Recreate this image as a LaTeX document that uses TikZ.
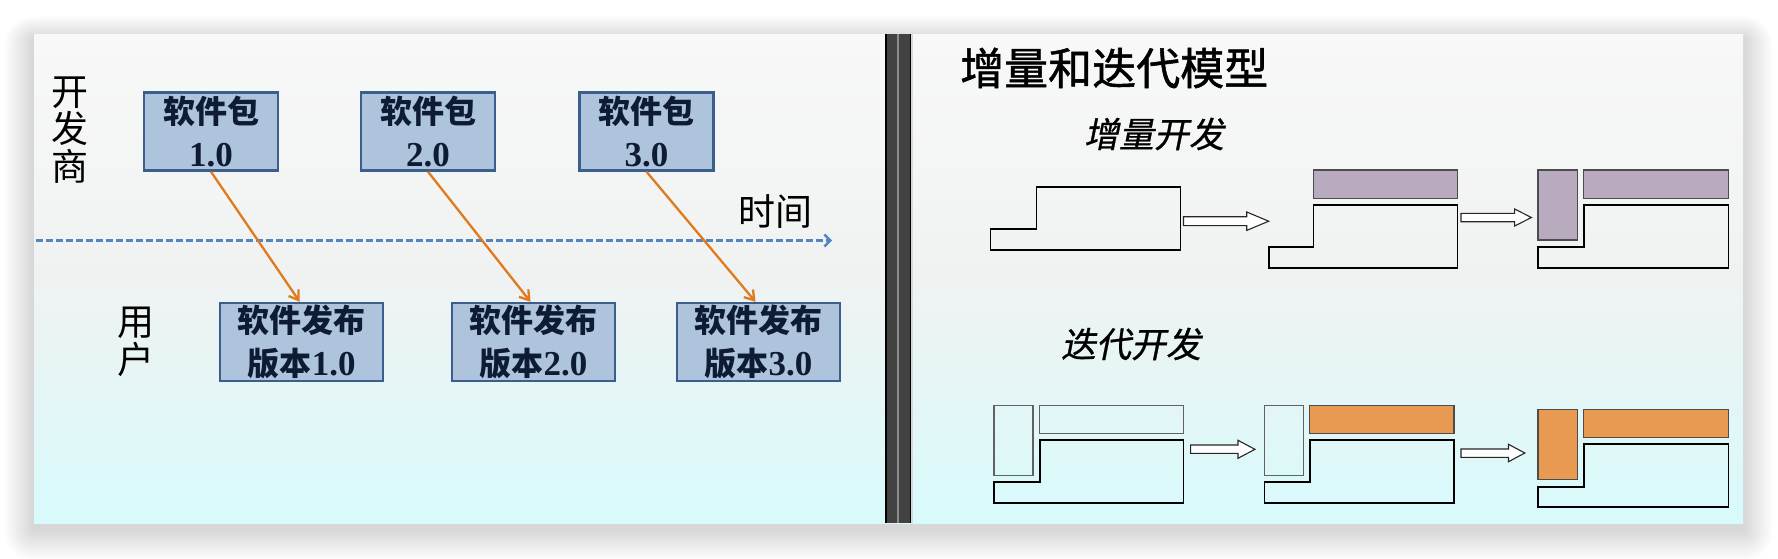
\documentclass[tikz,border=0pt]{standalone}
\usepackage{fontspec}
\setmainfont{Liberation Serif}
\newfontfamily\cjk{Noto Sans CJK SC}
\newfontfamily\cjkh[FakeBold=1.2]{Noto Sans CJK SC}
\newfontfamily\cjkit[FakeSlant=0.2,FakeBold=0.8]{Noto Sans CJK SC}
\usetikzlibrary{arrows.meta}
\definecolor{boxfill}{HTML}{AEC3DC}
\definecolor{boxline}{HTML}{3B5E8C}
\definecolor{boxtext}{HTML}{0E1C33}
\definecolor{arrc}{HTML}{E07A1C}
\definecolor{dashc}{HTML}{5585C0}
\definecolor{lav}{HTML}{B8ABBF}
\definecolor{org}{HTML}{E89A52}
\definecolor{bgtop}{HTML}{F8F8F8}
\definecolor{bgmid}{HTML}{F0F2F2}
\definecolor{bgbot}{HTML}{D8FAFB}
\definecolor{divdark}{HTML}{424242}
\definecolor{divlight}{HTML}{8C8C8C}
\tikzset{
  pkg/.style={draw=boxline, line width=2.4pt, fill=boxfill, minimum width=134pt,
    minimum height=78pt, inner sep=0pt, align=center, text=boxtext,
    font=\fontsize{32}{43}\selectfont\bfseries},
  rel/.style={pkg, minimum width=163pt},
  flow/.style={draw=arrc, line width=2.3pt, -{Straight Barb[length=9pt,width=12pt,line width=2.3pt]}},
  axis/.style={draw=dashc, line width=2.6pt, dash pattern=on 7pt off 3pt,
    -{Straight Barb[length=6pt,width=12pt,line width=2.4pt]}},
  label/.style={inner sep=0pt, font=\cjk\fontsize{37}{38}\selectfont, align=center},
  outline/.style={draw=black, line width=1.7pt},
  lavbox/.style={draw=black!70, line width=1.6pt, fill=lav},
  orgbox/.style={draw=black!70, line width=1.6pt, fill=org},
  emptybox/.style={draw=black!62, line width=1.5pt},
  blockarrow/.style={draw=black!85, line width=1.1pt, fill=white},
}
\begin{document}
\begin{tikzpicture}[x=1pt,y=-1pt]
\useasboundingbox (0,0) rectangle (1778,558);
% shadow
\foreach \i in {1,...,20}{
  \fill[black, opacity=0.008, rounded corners=1.5*\i pt] (34-1.5*\i,34-1.2*\i+6) rectangle (1743+1.5*\i,523+1.6*\i+6);
}
% background panel
\shade[top color=bgtop, bottom color=bgbot, middle color=bgmid] (34,34) rectangle (1743,523);
% divider
\fill[black] (885,34) rectangle (911,523);
\fill[divdark] (886.7,34) rectangle (896.7,523);
\fill[divlight] (896.7,34) rectangle (899,523);
\fill[divdark] (899,34) rectangle (910,523);
\fill[white!85!black] (911,34) rectangle (912.5,523);

% ---------- left part ----------
\node[label] (dev) at (70,130) {开\\[-0.5pt]发\\[-0.5pt]商};
\node[label] (usr) at (136,342) {用\\户};
\node[label] (time) at (775,212) {时间};

\coordinate (tl) at (36,240.5);
\coordinate (tr) at (832,240.5);
\draw[axis] (tl) -- (tr);

\node[pkg] (p1) at (211,131.5) {{\cjk 软件包}\\{\fontsize{35}{43}\selectfont 1.0}};
\node[pkg] (p2) at (428,131.5) {{\cjk 软件包}\\{\fontsize{35}{43}\selectfont 2.0}};
\node[pkg] (p3) at (646.5,131.5) {{\cjk 软件包}\\{\fontsize{35}{43}\selectfont 3.0}};

\node[rel] (r1) at (301.75,342) {{\cjk 软件发布}\\{\cjk 版本}{\fontsize{35}{43}\selectfont 1.0}};
\node[rel] (r2) at (533.5,342) {{\cjk 软件发布}\\{\cjk 版本}{\fontsize{35}{43}\selectfont 2.0}};
\node[rel] (r3) at (758.5,342) {{\cjk 软件发布}\\{\cjk 版本}{\fontsize{35}{43}\selectfont 3.0}};

\draw[flow] (p1.south) -- ([xshift=-2pt]r1.north);
\draw[flow] (p2.south) -- ([xshift=-3pt]r2.north);
\draw[flow] (p3.south) -- ([xshift=-3pt]r3.north);

% ---------- right part ----------
\node[inner sep=0pt, anchor=west, font=\cjkh\fontsize{44}{46}\selectfont] (title) at (960,68) {增量和迭代模型};
\node[inner sep=0pt, font=\cjkit\fontsize{35}{36}\selectfont] (inc) at (1154,134) {增量开发};
\node[inner sep=0pt, font=\cjkit\fontsize{35}{36}\selectfont] (itr) at (1131,344) {迭代开发};

% row 1 : incremental
\draw[outline] (1036.5,187.3) -- (1180.4,187.3) -- (1180.4,250) -- (990.6,250) -- (990.6,229.3) -- (1036.5,229.3) -- cycle;
\draw[blockarrow] (1183.5,216.7) -- (1246.7,216.7) -- (1246.7,212) -- (1268.7,221.2) -- (1246.7,230.4) -- (1246.7,225.6) -- (1183.5,225.6) -- cycle;
\draw[lavbox] (1313.6,170) rectangle (1457.4,198.3);
\draw[outline] (1313.6,205.3) -- (1457.4,205.3) -- (1457.4,268) -- (1268.7,268) -- (1268.7,247.3) -- (1313.6,247.3) -- cycle;
\draw[blockarrow] (1461,213.3) -- (1514.6,213.3) -- (1514.6,209) -- (1531.4,217.5) -- (1514.6,226) -- (1514.6,221.7) -- (1461,221.7) -- cycle;
\draw[lavbox] (1538,170) rectangle (1577.3,240);
\draw[lavbox] (1583.5,170) rectangle (1728.4,198.3);
\draw[outline] (1584,205.3) -- (1728.4,205.3) -- (1728.4,268) -- (1538,268) -- (1538,247.3) -- (1584,247.3) -- cycle;

% row 2 : iterative
\draw[emptybox] (994.2,405.3) rectangle (1033,475.3);
\draw[emptybox] (1039.6,405.3) rectangle (1183.5,433.3);
\draw[outline] (1040,440.3) -- (1183.5,440.3) -- (1183.5,503.3) -- (994.2,503.3) -- (994.2,482.3) -- (1040,482.3) -- cycle;
\draw[blockarrow] (1190.6,445) -- (1238,445) -- (1238,440.3) -- (1254.9,449.3) -- (1238,458.3) -- (1238,453.3) -- (1190.6,453.3) -- cycle;
\draw[emptybox] (1264.6,405.3) rectangle (1303.4,475.3);
\draw[orgbox] (1309.5,405.3) rectangle (1453.9,433.3);
\draw[outline] (1310,440.3) -- (1454,440.3) -- (1454,503.3) -- (1264.6,503.3) -- (1264.6,482.3) -- (1310,482.3) -- cycle;
\draw[blockarrow] (1461,449) -- (1508.5,449) -- (1508.5,444.3) -- (1524.8,453) -- (1508.5,461.7) -- (1508.5,457.3) -- (1461,457.3) -- cycle;
\draw[orgbox] (1538,409.3) rectangle (1577.3,479.3);
\draw[orgbox] (1583.5,409.3) rectangle (1728.4,437.3);
\draw[outline] (1584,444.3) -- (1728.4,444.3) -- (1728.4,507.3) -- (1538,507.3) -- (1538,486.7) -- (1584,486.7) -- cycle;
\end{tikzpicture}
\end{document}
